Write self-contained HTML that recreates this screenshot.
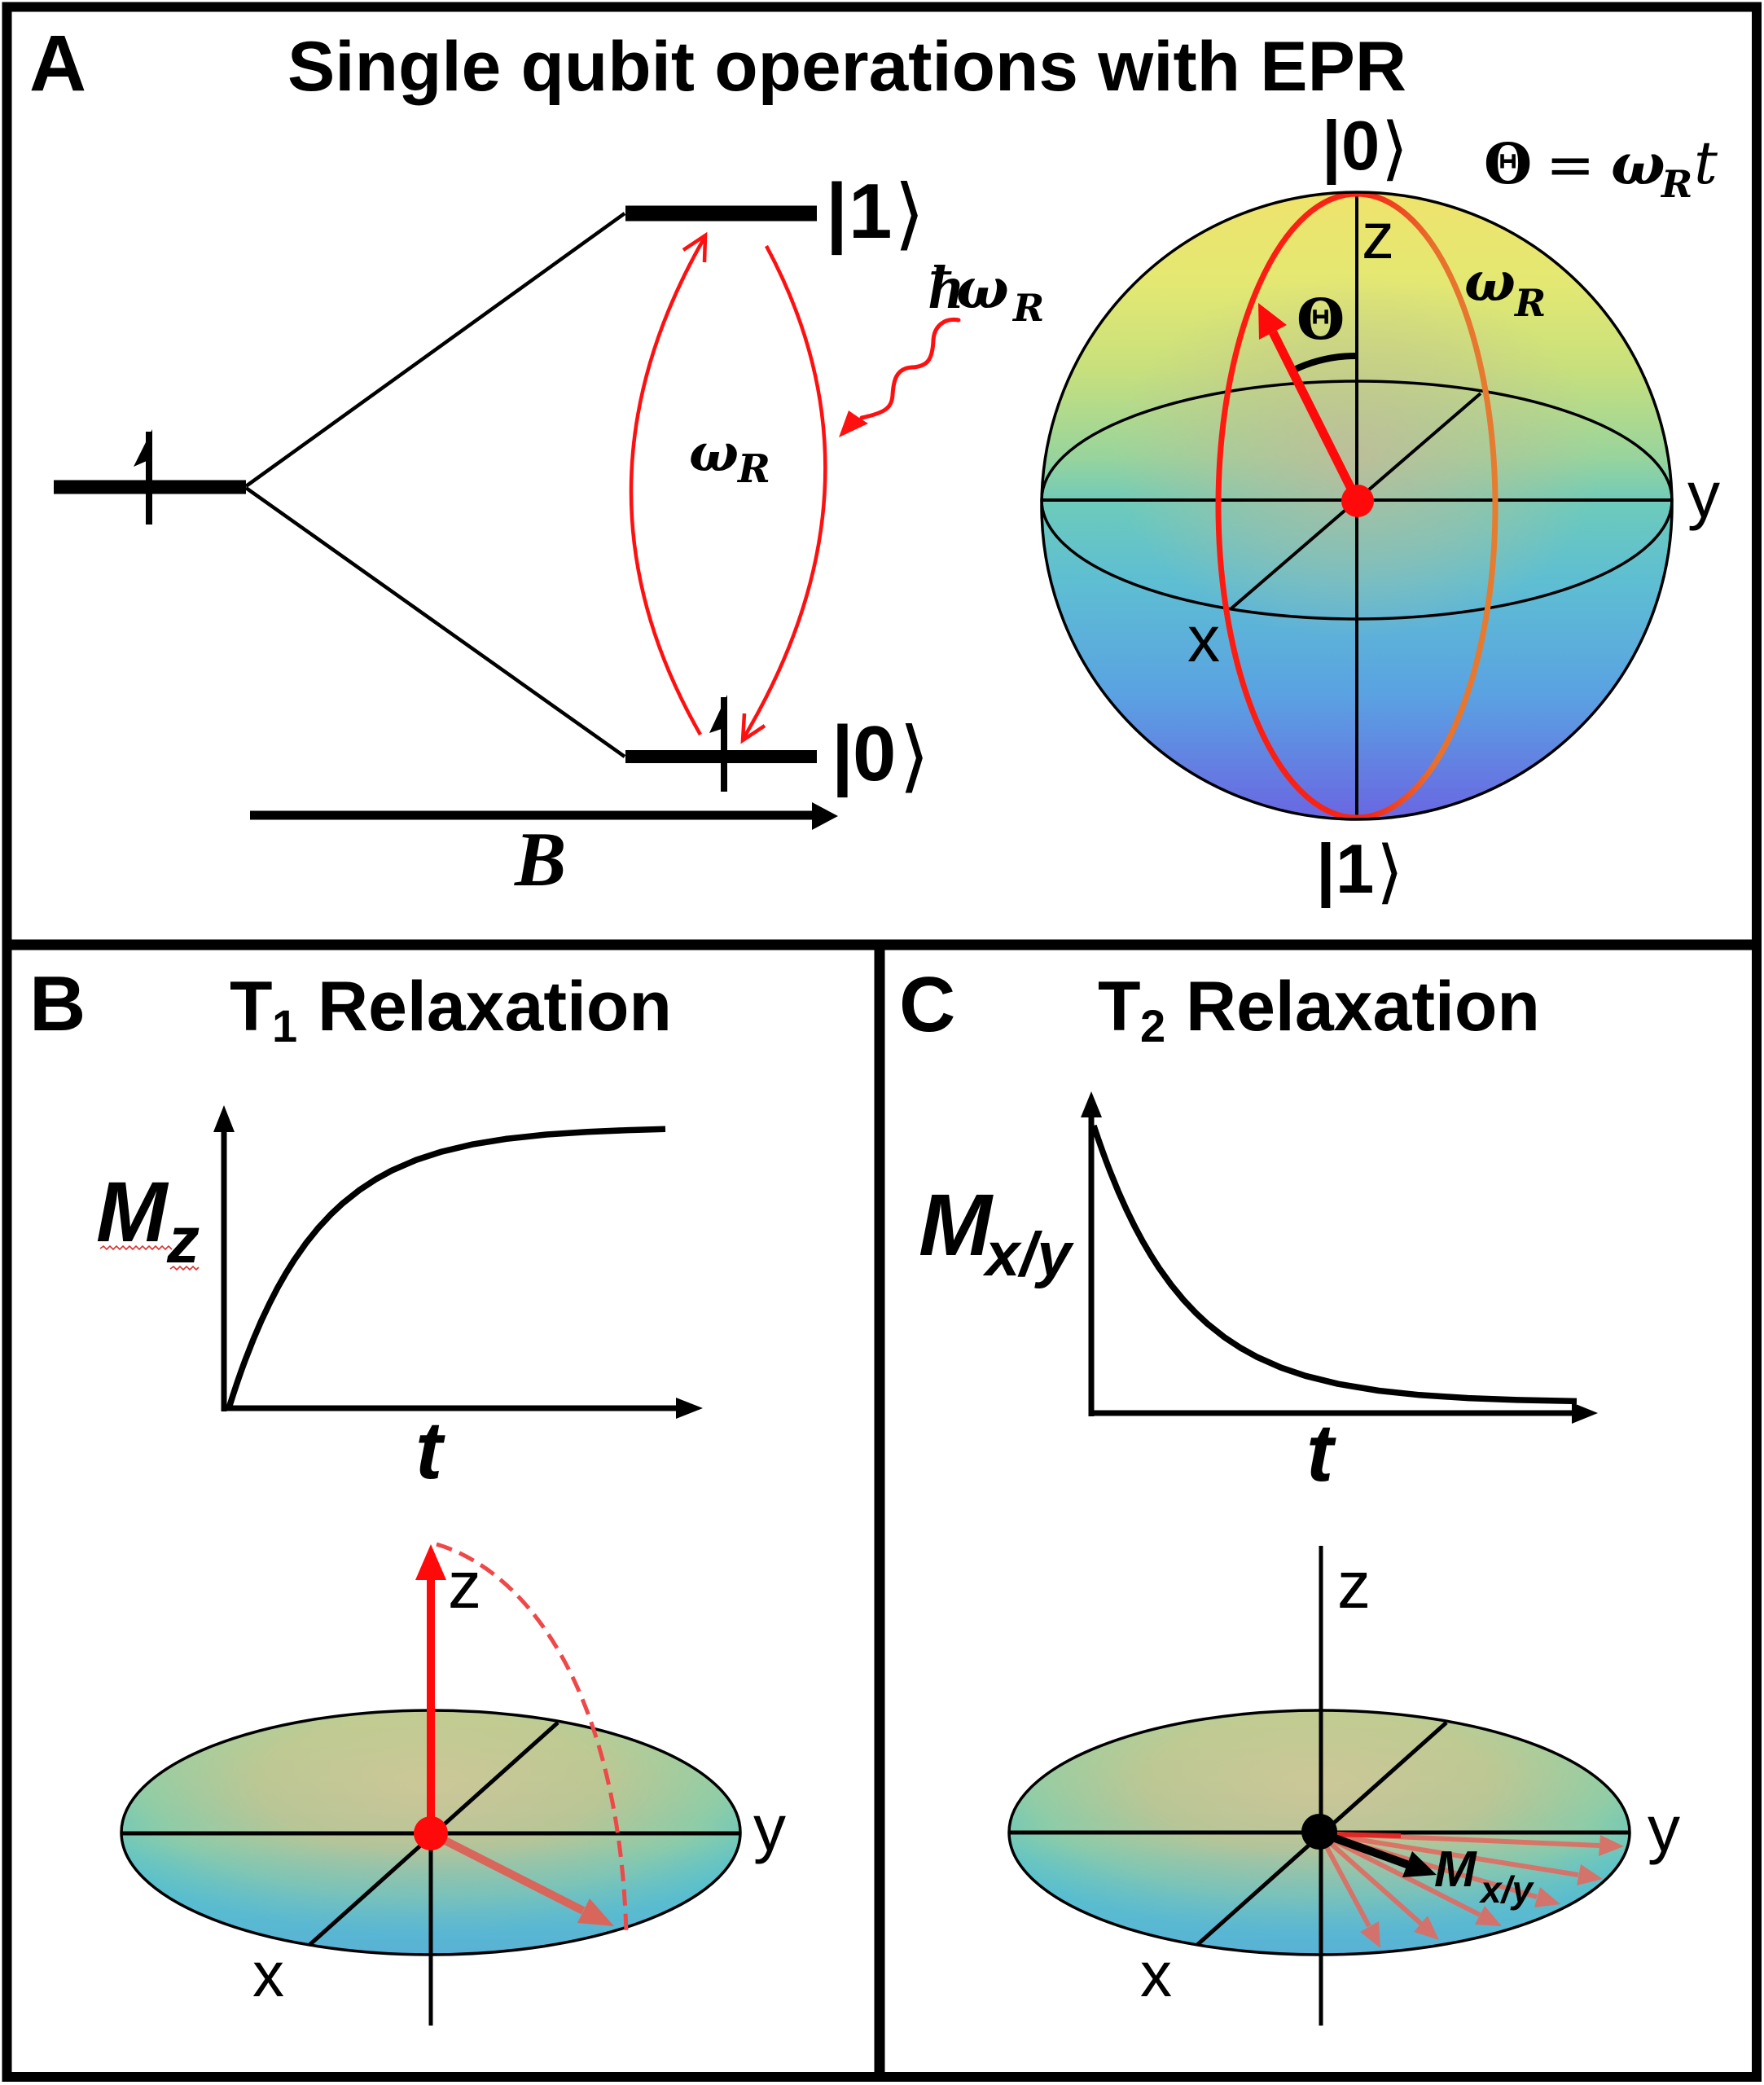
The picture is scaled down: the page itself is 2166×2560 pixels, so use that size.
<!DOCTYPE html>
<html>
<head>
<meta charset="utf-8">
<style>
html,body{margin:0;padding:0;background:#fff;}
svg{display:block;}
.sans{font-family:"Liberation Sans",Arial,sans-serif;}
.serif{font-family:"Liberation Serif","DejaVu Serif",serif;}
.math{font-family:"DejaVu Serif","Liberation Serif",serif;}
.ket{font-family:"DejaVu Sans","Noto Sans CJK JP",sans-serif;}
</style>
</head>
<body>
<svg width="2166" height="2560" viewBox="0 0 2166 2560" xmlns="http://www.w3.org/2000/svg">
<defs>
  <linearGradient id="sphLin" x1="0" y1="237" x2="0" y2="1006" gradientUnits="userSpaceOnUse">
    <stop offset="0" stop-color="#eee36c"/>
    <stop offset="0.14" stop-color="#e4e872"/>
    <stop offset="0.28" stop-color="#c8e07c"/>
    <stop offset="0.42" stop-color="#99d49c"/>
    <stop offset="0.5" stop-color="#6ccabc"/>
    <stop offset="0.62" stop-color="#5ebed2"/>
    <stop offset="0.8" stop-color="#5aa2e2"/>
    <stop offset="1" stop-color="#6a66e2"/>
  </linearGradient>
  <radialGradient id="sphBeige" cx="1666" cy="560" r="300" gradientUnits="userSpaceOnUse" gradientTransform="translate(1666 560) scale(1 0.75) translate(-1666 -560)">
    <stop offset="0" stop-color="#c8b898" stop-opacity="0.75"/>
    <stop offset="0.6" stop-color="#c2bc96" stop-opacity="0.35"/>
    <stop offset="1" stop-color="#c2bc96" stop-opacity="0"/>
  </radialGradient>
  <linearGradient id="redEll" x1="1496" y1="0" x2="1836" y2="0" gradientUnits="userSpaceOnUse">
    <stop offset="0" stop-color="#ff1a10"/>
    <stop offset="0.55" stop-color="#f42818"/>
    <stop offset="0.78" stop-color="#e8702c"/>
    <stop offset="1" stop-color="#e67c30"/>
  </linearGradient>
  <radialGradient id="diskRad" cx="0.5" cy="0.3" r="0.62">
    <stop offset="0" stop-color="#cbc59a"/>
    <stop offset="0.45" stop-color="#b8c596"/>
    <stop offset="0.75" stop-color="#8ccca8"/>
    <stop offset="1" stop-color="#58c6c8"/>
  </radialGradient>
  <linearGradient id="diskLin" x1="0" y1="0" x2="0" y2="1">
    <stop offset="0" stop-color="#d4d888" stop-opacity="0.35"/>
    <stop offset="0.45" stop-color="#d4d888" stop-opacity="0"/>
    <stop offset="0.6" stop-color="#5ab4d8" stop-opacity="0.15"/>
    <stop offset="1" stop-color="#5aa8dc" stop-opacity="0.7"/>
  </linearGradient>
</defs>

<rect x="0" y="0" width="2166" height="2560" fill="#fff"/>

<!-- ============ PANEL A ============ -->
<text x="36" y="111" class="sans" font-weight="bold" font-size="97">A</text>
<text x="353" y="111" class="sans" font-weight="bold" font-size="86" textLength="1374" lengthAdjust="spacingAndGlyphs">Single qubit operations with EPR</text>

<!-- energy levels -->
<line x1="66" y1="598" x2="302" y2="598" stroke="#000" stroke-width="17"/>
<line x1="302" y1="597" x2="767" y2="262" stroke="#000" stroke-width="4.5"/>
<line x1="302" y1="599" x2="767" y2="929" stroke="#000" stroke-width="4.5"/>
<line x1="768" y1="262" x2="1003" y2="262" stroke="#000" stroke-width="19"/>
<line x1="768" y1="929" x2="1003" y2="929" stroke="#000" stroke-width="16"/>

<!-- spin arrows -->
<rect x="179" y="530" width="8" height="114" fill="#000"/>
<polygon points="187,527 164,573 180,566 187,566" fill="#000"/>
<rect x="885" y="856" width="8" height="116" fill="#000"/>
<polygon points="893,853 871,900 886,895 893,895" fill="#000"/>

<!-- |1> -->
<text x="1014" y="292" class="sans" font-weight="bold" font-size="96">|</text>
<text x="1042" y="292" class="sans" font-weight="bold" font-size="96">1</text>
<text x="1098" y="295" class="ket" font-size="96">⟩</text>
<!-- |0> -->
<text x="1021" y="958" class="sans" font-weight="bold" font-size="96">|</text>
<text x="1047" y="958" class="sans" font-weight="bold" font-size="96">0</text>
<text x="1104" y="961" class="ket" font-size="96">⟩</text>

<!-- B arrow -->
<line x1="307" y1="1001" x2="1000" y2="1001" stroke="#000" stroke-width="11"/>
<polygon points="997,985 1029,1002 997,1019" fill="#000"/>
<text x="632" y="1087" class="serif" font-weight="bold" font-style="italic" font-size="95">B</text>

<!-- red transition arcs -->
<path d="M860,902 Q687,600 866,290" fill="none" stroke="#ff1010" stroke-width="4.5"/>
<polyline points="839,307 866,289 865,322" fill="none" stroke="#ff1010" stroke-width="4.5" stroke-linejoin="miter"/>
<path d="M941,302 Q1099,595 912,908" fill="none" stroke="#ff1010" stroke-width="4.5"/>
<polyline points="914,876 912,909 939,891" fill="none" stroke="#ff1010" stroke-width="4.5"/>
<text x="846" y="578" class="math" font-weight="bold" font-style="italic" font-size="64">ω</text>
<text x="906" y="592" class="math" font-weight="bold" font-style="italic" font-size="48">R</text>

<!-- hbar omega and wavy photon -->
<text x="1140" y="378" class="serif" font-weight="bold" font-style="italic" font-size="76">ħ</text>
<text x="1174" y="378" class="math" font-weight="bold" font-style="italic" font-size="68">ω</text>
<text x="1244" y="394" class="math" font-weight="bold" font-style="italic" font-size="46">R</text>
<path d="M1177,393 C1160,390 1147,400 1146,418 C1145,440 1140,450 1120,451 C1100,452 1097,468 1096,485 C1095,502 1085,507 1058,513" fill="none" stroke="#ff1010" stroke-width="5" stroke-linecap="round"/>
<polygon points="1030,537 1042,504 1055,513 1066,520" fill="#ff1010"/>

<!-- Bloch sphere -->
<ellipse cx="1666" cy="621" rx="387" ry="385" fill="url(#sphLin)"/>
<ellipse cx="1666" cy="621" rx="387" ry="385" fill="url(#sphBeige)"/>
<ellipse cx="1666" cy="614" rx="387" ry="146" fill="none" stroke="#000" stroke-width="3.5"/>
<line x1="1279" y1="614" x2="2053" y2="614" stroke="#000" stroke-width="4"/>
<line x1="1666" y1="239" x2="1666" y2="1004" stroke="#000" stroke-width="4"/>
<line x1="1512" y1="747" x2="1818" y2="483" stroke="#000" stroke-width="4"/>
<ellipse cx="1666" cy="621" rx="170" ry="383" fill="none" stroke="url(#redEll)" stroke-width="7"/>
<path d="M1587,455 A177,177 0 0 1 1666,437" fill="none" stroke="#000" stroke-width="8"/>
<line x1="1666" y1="614" x2="1563" y2="408" stroke="#ff0a0a" stroke-width="11"/>
<polygon points="1545,372 1580,399 1546,417" fill="#ff0a0a"/>
<circle cx="1667" cy="615" r="20" fill="#ff0a0a"/>
<ellipse cx="1666" cy="621" rx="387" ry="385" fill="none" stroke="#000" stroke-width="3.5"/>

<text x="1672" y="317" class="sans" font-size="80">z</text>
<text x="1592" y="416" class="math" font-weight="bold" font-size="68">Θ</text>
<text x="1798" y="369" class="math" font-weight="bold" font-style="italic" font-size="66">ω</text>
<text x="1860" y="388" class="math" font-weight="bold" font-style="italic" font-size="46">R</text>
<text x="2072" y="635" class="sans" font-size="80">y</text>
<text x="1458" y="812" class="sans" font-size="80">x</text>

<text x="1623" y="208" class="sans" font-weight="bold" font-size="85">|</text>
<text x="1647" y="208" class="sans" font-weight="bold" font-size="85">0</text>
<text x="1696" y="211" class="ket" font-size="85">⟩</text>
<text x="1616" y="1096" class="sans" font-weight="bold" font-size="85">|</text>
<text x="1640" y="1096" class="sans" font-weight="bold" font-size="85">1</text>
<text x="1690" y="1099" class="ket" font-size="85">⟩</text>

<text x="1822" y="225" class="math" font-weight="bold" font-size="68">Θ</text>
<text x="1898" y="227" class="math" font-size="72">=</text>
<text x="1978" y="226" class="math" font-weight="bold" font-style="italic" font-size="70">ω</text>
<text x="2040" y="242" class="math" font-weight="bold" font-style="italic" font-size="46">R</text>
<text x="2080" y="225" class="math" font-style="italic" font-size="72">t</text>

<!-- ============ PANEL B ============ -->
<text x="36" y="1265" class="sans" font-weight="bold" font-size="96">B</text>
<text x="282" y="1265" class="sans" font-weight="bold" font-size="86">T</text>
<text x="334" y="1279" class="sans" font-weight="bold" font-size="56">1</text>
<text x="390" y="1265" class="sans" font-weight="bold" font-size="86">Relaxation</text>

<!-- graph B -->
<line x1="275" y1="1733" x2="275" y2="1385" stroke="#000" stroke-width="7"/>
<polygon points="275,1357 262,1390 288,1390" fill="#000"/>
<line x1="272" y1="1729" x2="835" y2="1729" stroke="#000" stroke-width="7"/>
<polygon points="863,1729 830,1716 830,1742" fill="#000"/>
<polyline points="281,1729 286,1713.3 291,1698.2 296,1683.8 301,1670.2 311,1644.7 321,1621.4 331,1600.3 341,1580.9 351,1563.4 361,1547.4 376,1526 391,1507.4 406,1491.3 421,1477.3 441,1461.4 461,1448.2 481,1437.2 511,1424.2 541,1414.4 581,1404.9 621,1398.4 671,1393 721,1389.7 771,1387.6 817,1386.3" fill="none" stroke="#000" stroke-width="7.5" stroke-linejoin="round"/>
<text x="118" y="1524" class="sans" font-weight="bold" font-style="italic" font-size="105">M</text>
<text x="205" y="1550" class="sans" font-weight="bold" font-style="italic" font-size="80">z</text>
<polyline points="123,1533 127,1530 131,1534 135,1530 139,1534 143,1530 147,1534 151,1530 155,1534 159,1530 163,1534 167,1530 171,1534 175,1530 179,1534 183,1530 187,1534 191,1530 195,1534 199,1530 203,1534 207,1530 211,1534" fill="none" stroke="#e03030" stroke-width="1.6"/>
<polyline points="209,1558 213,1555 217,1559 221,1555 225,1559 229,1555 233,1559 237,1555 241,1559 244,1556" fill="none" stroke="#e03030" stroke-width="1.6"/>
<text x="510" y="1815" class="sans" font-weight="bold" font-style="italic" font-size="100">t</text>

<!-- disk B -->
<ellipse cx="529" cy="2250" rx="380" ry="150" fill="url(#diskRad)"/>
<ellipse cx="529" cy="2250" rx="380" ry="150" fill="url(#diskLin)"/>
<ellipse cx="529" cy="2250" rx="380" ry="150" fill="none" stroke="#000" stroke-width="3.5"/>
<line x1="149" y1="2251" x2="909" y2="2251" stroke="#000" stroke-width="5"/>
<line x1="685" y1="2115" x2="380" y2="2388" stroke="#000" stroke-width="5"/>
<line x1="529" y1="2251" x2="529" y2="2487" stroke="#000" stroke-width="5"/>
<path d="M536,1896 C650,1930 760,2080 769,2373" fill="none" stroke="#ee4848" stroke-width="5" stroke-dasharray="20,10"/>
<line x1="529" y1="2251" x2="716" y2="2346" stroke="#d9665a" stroke-width="10"/>
<polygon points="754,2365 709,2361 724,2331" fill="#d9665a"/>
<line x1="529" y1="2251" x2="529" y2="1935" stroke="#ff0a0a" stroke-width="10"/>
<polygon points="529,1896 510,1940 548,1940" fill="#ff0a0a"/>
<circle cx="529" cy="2251" r="21" fill="#ff0a0a"/>
<text x="550" y="1974" class="sans" font-size="82">z</text>
<text x="925" y="2272" class="sans" font-size="80">y</text>
<text x="310" y="2451" class="sans" font-size="78">x</text>

<!-- ============ PANEL C ============ -->
<text x="1104" y="1266" class="sans" font-weight="bold" font-size="96">C</text>
<text x="1348" y="1265" class="sans" font-weight="bold" font-size="86">T</text>
<text x="1400" y="1279" class="sans" font-weight="bold" font-size="56">2</text>
<text x="1456" y="1265" class="sans" font-weight="bold" font-size="86">Relaxation</text>

<!-- graph C -->
<line x1="1340" y1="1739" x2="1340" y2="1368" stroke="#000" stroke-width="7"/>
<polygon points="1340,1340 1327,1372 1353,1372" fill="#000"/>
<line x1="1337" y1="1735" x2="1933" y2="1735" stroke="#000" stroke-width="7"/>
<polygon points="1962,1735 1930,1722 1930,1748" fill="#000"/>
<polyline points="1343,1382 1348,1397 1353,1411.3 1358,1425 1363,1438.1 1373,1462.6 1383,1484.9 1393,1505.3 1403,1524 1413,1541 1423,1556.7 1438,1577.5 1453,1595.8 1468,1611.7 1483,1625.7 1503,1641.6 1523,1654.8 1543,1665.9 1573,1679.2 1603,1689.3 1643,1699.2 1693,1707.5 1743,1712.8 1803,1716.6 1863,1718.9 1936,1720.4" fill="none" stroke="#000" stroke-width="7.5" stroke-linejoin="round"/>
<text x="1128" y="1541" class="sans" font-weight="bold" font-style="italic" font-size="108">M</text>
<text x="1210" y="1566" class="sans" font-weight="bold" font-style="italic" font-size="76">x/y</text>
<text x="1604" y="1818" class="sans" font-weight="bold" font-style="italic" font-size="100">t</text>

<!-- disk C -->
<ellipse cx="1620" cy="2250" rx="381" ry="150" fill="url(#diskRad)"/>
<ellipse cx="1620" cy="2250" rx="381" ry="150" fill="url(#diskLin)"/>
<ellipse cx="1620" cy="2250" rx="381" ry="150" fill="none" stroke="#000" stroke-width="3.5"/>
<line x1="1239" y1="2250" x2="2002" y2="2250" stroke="#000" stroke-width="5"/>
<line x1="1776" y1="2115" x2="1470" y2="2388" stroke="#000" stroke-width="5"/>
<line x1="1622" y1="1898" x2="1622" y2="2487" stroke="#000" stroke-width="5"/>
<g stroke="#e06a60" stroke-width="6" stroke-opacity="0.9">
  <line x1="1620" y1="2251" x2="1964" y2="2266"/>
  <line x1="1620" y1="2251" x2="1938" y2="2302"/>
  <line x1="1620" y1="2251" x2="1887" y2="2329"/>
  <line x1="1620" y1="2251" x2="1817" y2="2351"/>
  <line x1="1620" y1="2251" x2="1745" y2="2362"/>
  <line x1="1620" y1="2251" x2="1681" y2="2365"/>
  <line x1="1625" y1="2252" x2="1720" y2="2254" stroke="#e02020"/>
</g>
<g fill="#e06a60" fill-opacity="0.9">
  <polygon points="1994,2267 1963,2279 1965,2253"/>
  <polygon points="1968,2307 1936,2315 1941,2289"/>
  <polygon points="1916,2338 1884,2342 1891,2317"/>
  <polygon points="1844,2365 1811,2363 1823,2340"/>
  <polygon points="1767,2382 1736,2372 1753,2352"/>
  <polygon points="1695,2392 1670,2372 1693,2359"/>
</g>
<line x1="1620" y1="2250" x2="1730" y2="2290" stroke="#000" stroke-width="10"/>
<polygon points="1764,2302 1722,2305 1734,2273" fill="#000"/>
<circle cx="1620" cy="2249" r="22" fill="#000"/>
<text x="1761" y="2316" class="sans" font-weight="bold" font-style="italic" font-size="62">M</text>
<text x="1818" y="2336" class="sans" font-weight="bold" font-style="italic" font-size="46">x/y</text>
<text x="1642" y="1974" class="sans" font-size="82">z</text>
<text x="2023" y="2273" class="sans" font-size="80">y</text>
<text x="1400" y="2451" class="sans" font-size="78">x</text>

<!-- ============ BORDERS ============ -->
<rect x="8.5" y="8.5" width="2148.5" height="2541.5" fill="none" stroke="#000" stroke-width="12"/>
<line x1="3" y1="1160" x2="2163" y2="1160" stroke="#000" stroke-width="13"/>
<line x1="1080" y1="1160" x2="1080" y2="2556" stroke="#000" stroke-width="13"/>
</svg>
</body>
</html>
